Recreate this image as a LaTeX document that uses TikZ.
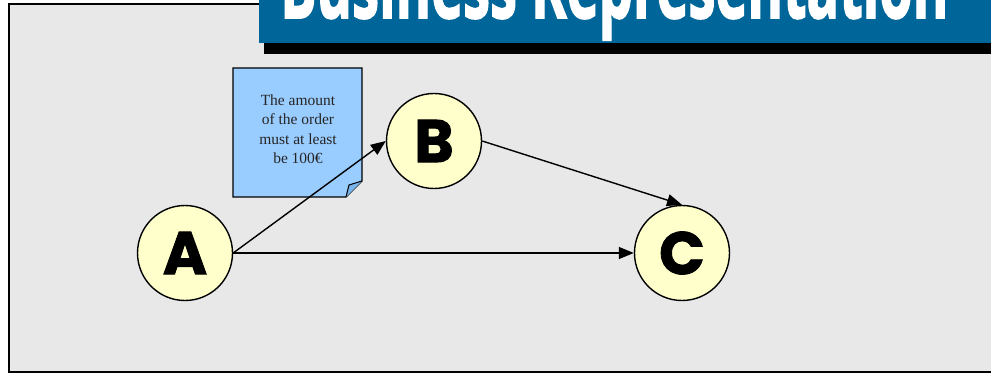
\documentclass[tikz,border=0pt]{standalone}
\usepackage{fontspec}
\setmainfont{Liberation Serif}
\newfontfamily\titlefont[FakeBold=2]{Open Sans}
\newfontfamily\letterfont[FakeBold=1.5]{Poppins}
\usetikzlibrary{arrows.meta}
\definecolor{bggray}{RGB}{232,232,232}
\definecolor{titleblue}{RGB}{0,102,153}
\definecolor{nodeyellow}{RGB}{255,255,204}
\definecolor{noteblue}{RGB}{153,204,255}
\definecolor{foldblue}{RGB}{120,180,235}
\tikzset{
  circ/.style={circle, draw=black, line width=1.4pt, fill=nodeyellow, minimum size=95pt, inner sep=0pt,
    font=\letterfont\bfseries\fontsize{60}{60}\selectfont},
  conn/.style={line width=1.4pt, -{Triangle[length=15pt,width=12pt]}},
}
\begin{document}
\begin{tikzpicture}[x=1pt,y=-1pt]
\useasboundingbox (0,0) rectangle (991,374);
\fill[white] (0,0) rectangle (991,374);
% panel
\draw[fill=bggray, line width=1.5pt] (9,4) rectangle (1000,372);
% title bar
\fill[black] (264,43) rectangle (991,54);
\fill[titleblue] (259,0) rectangle (991,43);
\begin{scope}
\clip (259,0) rectangle (991,43);
\node[anchor=base west, inner sep=0pt, text=white] (title) at (280,18)
  {\resizebox{668pt}{70pt}{\titlefont\bfseries Business Representation}};
\end{scope}
% note
\draw[fill=noteblue, line width=1.4pt] (233,68) -- (362,68) -- (362,181) -- (346,197) -- (233,197) -- cycle;
\draw[fill=foldblue, line width=1pt] (346,197) -- (349,185) -- (362,181);
\node[align=center, font=\fontsize{15.5}{19.5}\selectfont, text=black!85] (note) at (298,129)
  {The amount\\of the order\\must at least\\be 100€};
% nodes
\node[circ] (A) at (185,253) {A};
\node[circ] (B) at (434,141) {B};
\node[circ] (C) at (682,253) {C};
% connectors
\draw[conn] (A.east) -- (B.west);
\draw[conn] (A.east) -- (C.west);
\draw[conn] (B.east) -- (C.north);
\end{tikzpicture}
\end{document}
